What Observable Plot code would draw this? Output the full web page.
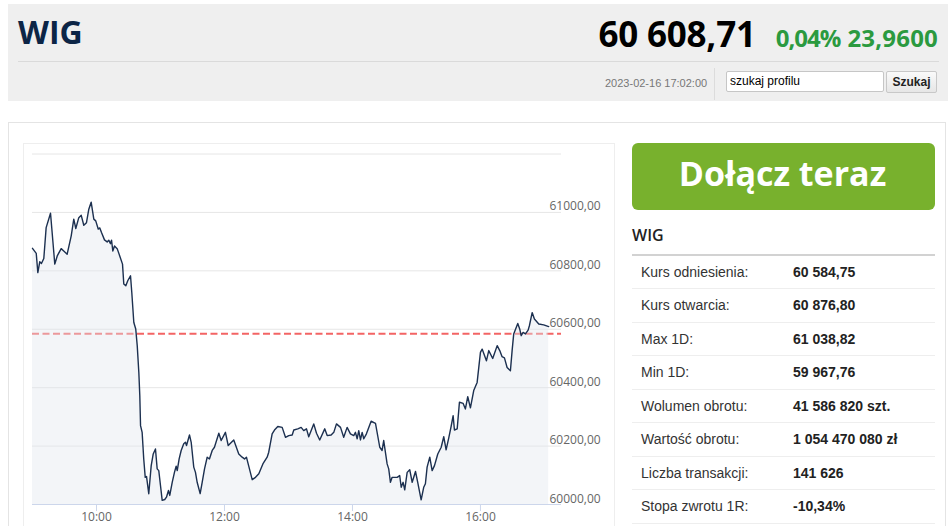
<!DOCTYPE html>
<html><head><meta charset="utf-8">
<script src="https://cdn.jsdelivr.net/npm/d3@7"></script>
<script src="https://cdn.jsdelivr.net/npm/@observablehq/plot@0.6"></script>
<style>
html,body{margin:0;padding:0;background:#fff;overflow:hidden;}
#page{position:relative;width:948px;height:526px;font-family:Arial,"Liberation Sans",sans-serif;overflow:hidden;}
.abs{position:absolute;}
#hdr{left:8px;top:4px;width:940px;height:97px;background:#efefef;}
#hdrline{left:18px;top:61px;width:921px;height:0;border-top:1px solid #dadada;}
#title{left:18px;top:15.6px;font:700 32px/1 "Open Sans",sans-serif;color:#0c2546;}
#quote{right:10px;top:15.6px;display:flex;align-items:baseline;font-family:"Open Sans",sans-serif;font-weight:700;line-height:1;}
#price{font-size:35px;color:#000;margin-right:20px;letter-spacing:-0.2px;}
#pct{font-size:24px;color:#2b9a3f;margin-right:7px;letter-spacing:-1px;}
#chg{font-size:24px;color:#2b9a3f;letter-spacing:0.2px;}
#date{left:605px;top:77.5px;font-size:11px;line-height:1;color:#777;}
#vsep{left:714px;top:68px;width:0;height:32px;border-left:1px solid #dcdcdc;}
#search{left:726px;top:71px;width:153px;height:19px;background:#fff;border:1px solid #c6c6c6;border-radius:2px;font-size:12px;line-height:19px;color:#000;padding-left:3px;box-sizing:content-box;}
#btn{left:886px;top:71px;width:49px;height:20px;border:1px solid #c8c8c8;border-radius:2px;background:linear-gradient(#fafafa,#e6e6e6);font-size:12px;font-weight:700;line-height:20px;text-align:center;color:#222;}
#main{left:8px;top:122px;width:936px;height:420px;border:1px solid #e4e4e4;}
#chartbox{left:23px;top:143px;width:590px;height:400px;border:1px solid #eeeeee;}
#chart{left:22px;top:142px;}
#join{left:632px;top:143px;width:303px;height:67px;background:#78b12d;border-radius:6px;}
#jointxt{left:631px;top:155.8px;width:303px;text-align:center;font:700 34px/1 "Open Sans",sans-serif;color:#fff;}
#wig2{left:632px;top:227px;font:600 16px/1 "Open Sans",sans-serif;color:#222;}
#wigline{left:632px;top:254px;width:303px;height:0;border-top:2px solid #d2d2d2;}
.lbl{left:641px;font-size:14px;line-height:1;color:#333;}
.val{left:793px;font-size:14px;line-height:1;color:#222;font-weight:700;}
.sep{left:632px;width:303px;height:0;border-top:1px solid #eeeeee;}
</style></head>
<body>
<div id="page">
  <div id="hdr" class="abs"></div>
  <div id="title" class="abs">WIG</div>
  <div id="quote" class="abs"><span id="price"></span><span id="pct"></span><span id="chg"></span></div>
  <div id="hdrline" class="abs"></div>
  <div id="date" class="abs"></div>
  <div id="vsep" class="abs"></div>
  <div id="search" class="abs">szukaj profilu</div>
  <div id="btn" class="abs">Szukaj</div>
  <div id="main" class="abs"></div>
  <div id="chartbox" class="abs"></div>
  <div id="chart" class="abs"></div>
  <div id="join" class="abs"></div>
  <div id="jointxt" class="abs">Dołącz teraz</div>
  <div id="wig2" class="abs">WIG</div>
  <div id="wigline" class="abs"></div>
  <div id="stats"></div>
</div>
<script>
// ---- header values ----
const lastPrice = "60 608,71";
const changePct = "0,04%";
const changeAbs = "23,9600";
const quoteTime = "2023-02-16 17:02:00";

// ---- stats table ----
const statLabels = ["Kurs odniesienia:","Kurs otwarcia:","Max 1D:","Min 1D:","Wolumen obrotu:","Wartość obrotu:","Liczba transakcji:","Stopa zwrotu 1R:"];
const statValues = ["60 584,75","60 876,80","61 038,82","59 967,76","41 586 820 szt.","1 054 470 080 zł","141 626","-10,34%"];

// ---- intraday series (minutes after 09:00, index value) ----
const minutes = [0,3.5,5,6.8,8.4,10.6,12.8,16.9,20.9,23.2,
26.9,29.3,32.5,36.3,38.7,40.6,43.4,45.7,48.1,50.6,
52.8,55,57.5,59.3,61.6,63.1,64.7,67.5,70,71.5,
73.1,74.1,75.3,76.9,79.4,81.8,84.4,85.6,87.5,89.3,
91.9,93.1,95,96.8,98.2,99.7,100.6,101.3,102.8,104.3,
105.7,106.9,109,111.3,113.2,115.3,116.9,118.4,120,121.6,
124,125.6,127.5,128.7,131,133.1,134.7,135.7,137.5,139.4,
141.8,143.4,144.4,147.2,148.8,151.2,152.8,154.4,157.2,159.1,
161.3,163.8,165.9,168.5,170.6,174.7,176.9,180.9,183.5,188.7,
193.4,196.6,198.8,200.6,206,209.1,212.2,216.3,220,221.5,
224.7,226.9,230,234.1,237.2,240.3,243.5,245,248.7,251.9,
254.3,256.9,259,263.7,266.3,269.3,274,276.3,280,282.5,
285,288.8,291.8,295,298.1,301.2,302.8,304.4,305.9,307.5,
309.1,310.6,313.1,317.5,321.6,325.6,327.8,329.3,332.5,334,
335.6,337.2,341.9,344.3,345.7,347.5,349,351.3,353.7,356,
359.1,361.2,364.4,366.8,368.4,370,372.5,374.7,376.9,380,
383.2,385.6,387.8,390.3,392.5,394.4,395.6,398.2,400.3,403.8,
405.9,408.1,410.6,413.7,416.9,420,421.6,425.6,427.8,431.5,
435.7,438.1,440.3,442.5,445,448.1,449.7,451.2,455,456.8,
458.2,460,462.2,464.7,465.9,468.5,470.6,474.7,479.3,484];
const values = [60877,60860,60794,60831,60825,60842,60948,60997,60823,60851,
60876,60868,60857,60920,60977,60945,60982,60990,60956,60965,
61011,61035,60977,60971,60943,60947,60931,60906,60899,60905,
60893,60905,60868,60885,60876,60851,60823,60755,60749,60766,
60783,60726,60623,60601,60544,60452,60373,60270,60247,60156,
60093,60096,60037,60133,60173,60190,60122,60116,60065,60014,
60017,60025,60048,60031,60076,60110,60131,60116,60156,60185,
60208,60213,60202,60238,60213,60128,60110,60076,60037,60076,
60122,60162,60156,60185,60196,60244,60219,60247,60202,60221,
60173,60162,60156,60162,60085,60093,60105,60141,60162,60179,
60242,60255,60267,60264,60230,60236,60238,60255,60259,60264,
60253,60259,60232,60276,60244,60221,60259,60236,60238,60247,
60276,60264,60230,60264,60242,60236,60247,60225,60253,60221,
60247,60225,60242,60285,60278,60196,60185,60219,60139,60122,
60076,60093,60093,60099,60059,60076,60050,60110,60119,60076,
60113,60076,60016,60059,60071,60128,60162,60116,60133,60173,
60196,60232,60187,60228,60267,60304,60255,60259,60350,60346,
60327,60369,60331,60390,60418,60521,60532,60492,60527,60500,
60544,60527,60506,60502,60469,60458,60527,60584,60620,60601,
60578,60589,60584,60597,60612,60657,60635,60618,60615,60609];

const referenceValue = 60584.75;
const gridTicks = [60000,60200,60400,60600,60800,61000,61200];
const yLabelTicks = [60000,60200,60400,60600,60800,61000];
const xTickHours = ["10:00","12:00","14:00","16:00"];
const xDomainMinutes = [0, 496];

// ---- fill header/table ----
document.getElementById("price").textContent = lastPrice;
document.getElementById("pct").textContent = changePct;
document.getElementById("chg").textContent = changeAbs;
document.getElementById("date").textContent = quoteTime;
const stats = document.getElementById("stats");
statLabels.forEach((l,i)=>{
  const base = 276.7 + 33.5*i;
  const a = document.createElement("div"); a.className="abs lbl"; a.style.top=(base-11.85)+"px"; a.textContent=l; stats.appendChild(a);
  const b = document.createElement("div"); b.className="abs val"; b.style.top=(base-11.85)+"px"; b.textContent=statValues[i]; stats.appendChild(b);
  const s = document.createElement("div"); s.className="abs sep"; s.style.top=(288+33.5*i)+"px"; stats.appendChild(s);
});

// ---- chart ----
const day0 = new Date(2023,1,16,9,0,0);
const toDate = m => new Date(day0.getTime() + m*60000);
const parseHM = s => { const [h,m]=s.split(":").map(Number); return new Date(2023,1,16,h,m,0); };
const data = minutes.map((m,i)=>({t: toDate(m), v: values[i]}));
const fmtY = d => d3.format(".2f")(d).replace(".", ",");

const chart = Plot.plot({
  width: 592, height: 392,
  marginLeft: 10, marginRight: 53, marginTop: 11.5, marginBottom: 30,
  x: {type: "time", domain: xDomainMinutes.map(toDate), label: null},
  y: {domain: [60000, 61200], axis: null},
  style: {background: "transparent", fontFamily: "'Open Sans', sans-serif", fontSize: "12px", overflow: "visible"},
  marks: [
    Plot.gridY(gridTicks, {stroke: "#e6e6e6", strokeOpacity: 1}),
    Plot.ruleY([referenceValue], {stroke: "#f36464", strokeWidth: 2, strokeDasharray: "7,3.5"}),
    Plot.areaY(data, {x: "t", y1: 60000, y2: "v", fill: "#e2e7ee", fillOpacity: 0.4}),
    Plot.ruleY([60000], {stroke: "#ccd6eb"}),
    Plot.lineY(data, {x: "t", y: "v", stroke: "#1c3050", strokeWidth: 1.4}),
    Plot.axisX(xTickHours.map(parseHM), {tickSize: 7, tickPadding: 1, tickFormat: d3.timeFormat("%H:%M"), stroke: "#ccd6eb", fill: "#666", fontSize: 12, label: null}),
    Plot.text(yLabelTicks, {y: d => d, text: fmtY, frameAnchor: "right", textAnchor: "start", lineAnchor: "bottom", dx: -12, dy: -2, fill: "#666", fontSize: 12})
  ]
});
document.getElementById("chart").appendChild(chart);
</script>
</body></html>
